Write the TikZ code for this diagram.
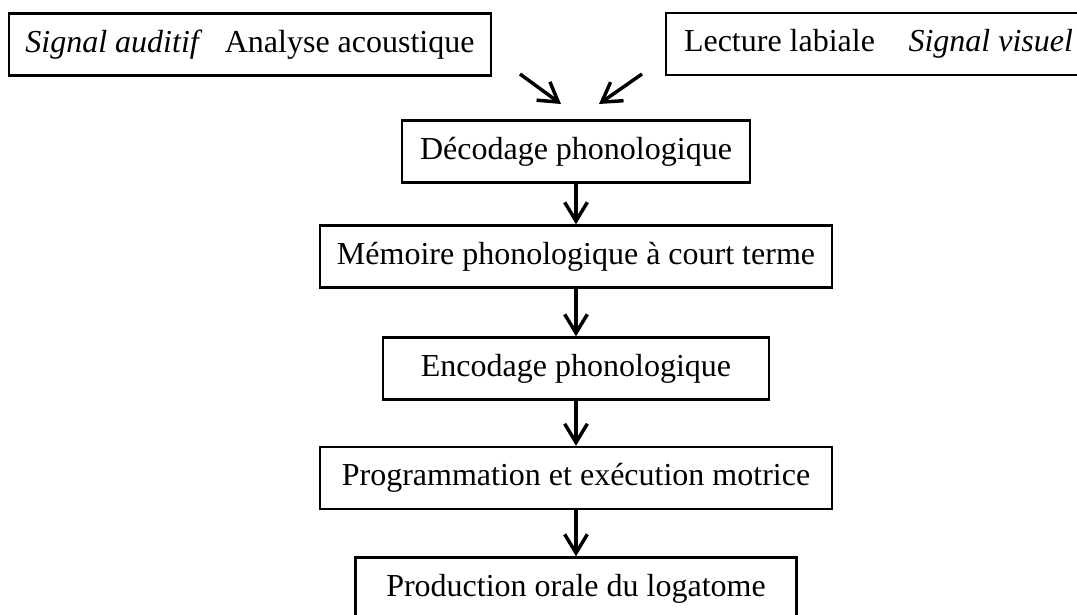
\documentclass[tikz,border=0pt]{standalone}
\usepackage{fontspec}
\setmainfont{Liberation Serif}
\usetikzlibrary{arrows.meta}
\begin{document}
\begin{tikzpicture}[x=0.75pt,y=-0.75pt,
  box/.style={draw, line width=1.8pt, inner sep=0pt, minimum height=46.5pt,
    font=\fontsize{24}{28}\selectfont},
  arr/.style={line width=2.6pt, -{Straight Barb[length=14pt,width=17pt,line width=2.6pt]}}]
\useasboundingbox (0,0) rectangle (1077,614);
\clip (0,0) rectangle (1077,614);
\node[box, minimum width=361.5pt] (aud) at (250,44.5) {\textit{Signal auditif}\hspace{0.7em}Analyse acoustique};
\node[box, minimum width=318.75pt] (vis) at (878.5,44) {Lecture labiale\hspace{1.05em}\textit{Signal visuel}};
\node[box, minimum width=261pt] (dec) at (576,151.5) {Décodage phonologique};
\node[box, minimum width=384pt] (mem) at (576,256.5) {Mémoire phonologique à court terme};
\node[box, minimum width=289.5pt] (enc) at (576,368.5) {Encodage phonologique};
\node[box, minimum width=384pt] (prog) at (576,478) {Programmation et exécution motrice};
\node[box, minimum width=330.75pt] (prod) at (576,588.5) {Production orale du logatome};
\coordinate (a1) at (520,74);
\coordinate (a2) at (561,104);
\coordinate (b1) at (642,74);
\coordinate (b2) at (599,104);
\draw[arr] (a1) -- (a2);
\draw[arr] (b1) -- (b2);
\draw[arr] (dec.south) -- (mem.north);
\draw[arr] (mem.south) -- (enc.north);
\draw[arr] (enc.south) -- (prog.north);
\draw[arr] (prog.south) -- (prod.north);
\end{tikzpicture}
\end{document}
